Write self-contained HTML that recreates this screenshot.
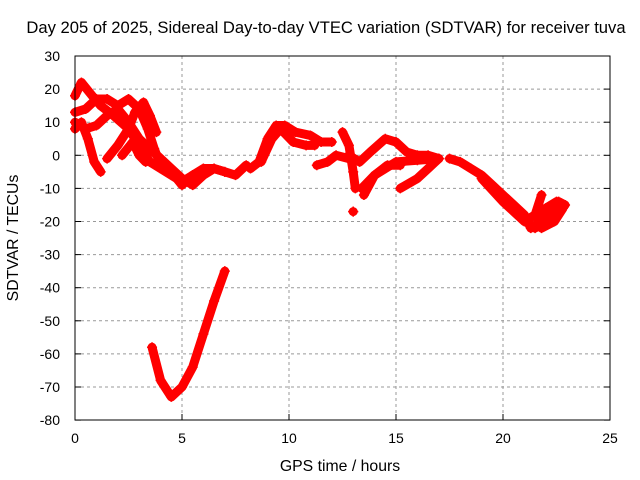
<!DOCTYPE html>
<html><head><meta charset="utf-8"><style>
body{margin:0;background:#fff}
svg{display:block;font-family:"Liberation Sans",sans-serif;font-size:14px}
</style></head><body>
<svg id="c" width="640" height="480">
<text x="326" y="33" text-anchor="middle" style="font-size:16.6px">Day 205 of 2025, Sidereal Day-to-day VTEC variation (SDTVAR) for receiver tuva</text>
<text x="340" y="471" text-anchor="middle" style="font-size:15.8px">GPS time / hours</text>
<text transform="translate(18,238) rotate(-90)" text-anchor="middle" style="font-size:15.8px">SDTVAR / TECUs</text>
<g id="grid"></g><g id="axes"></g><g id="marks"></g>
<rect x="75" y="56" width="535" height="364" fill="none" stroke="#000" stroke-width="1"/>
</svg>
<script>
const xTicks=[0,5,10,15,20,25];
const yTicks=[30,20,10,0,-10,-20,-30,-40,-50,-60,-70,-80];
const tracks=[
[[3.6,-58],[4.0,-68],[4.5,-73],[5.0,-70],[5.5,-64],[6.0,-54],[6.5,-44],[7.0,-35]],
[[0,18],[0.3,22],[0.8,18],[1.2,15],[1.8,12],[2.5,8],[3.0,3],[3.5,-2],[4.0,-4],[4.5,-6],[5.0,-8],[5.5,-6],[6.0,-4],[6.5,-4],[7.0,-5]],
[[0,8],[0.3,10],[0.6,5],[0.9,-2],[1.2,-5]],
[[0,13],[0.5,14],[1.0,17],[1.5,17],[2.0,15],[2.5,17],[3.0,14],[3.4,8],[3.7,2],[4.0,-3],[4.5,-5],[5.0,-9],[5.5,-6]],
[[0,10],[0.5,8],[1,9],[1.5,12],[2,14],[2.5,10],[3.0,5],[3.5,2],[4,-1],[4.5,-4],[5,-7],[5.5,-9],[6,-6],[6.5,-4],[7,-5],[7.5,-6],[8,-3]],
[[1.5,-1],[2,3],[2.5,8],[2.8,13],[3.2,16],[3.5,12],[3.8,7]],
[[2.2,0],[2.7,4],[3.0,0],[3.3,-2]],
[[8.2,-4],[8.6,-2],[9,5],[9.4,9],[9.8,9],[10.3,7],[11,6],[11.5,4],[12,4]],
[[8.7,-2],[9.2,5],[9.6,8],[10.2,4],[10.8,3],[11.2,3]],
[[11.3,-3],[11.8,-2],[12.2,0],[12.8,-1]],
[[12.5,7],[12.8,3],[13,-5],[13.1,-10]],
[[13.0,-17],[13.0,-17]],
[[12.8,0],[13.3,-2],[13.8,1],[14.5,5],[15,4],[15.5,1],[16,0],[16.5,0],[17,-1]],
[[13.4,-10],[14,-6],[14.5,-4],[15,-2],[16,-1.5],[17,-1]],
[[13.5,-12],[14,-6],[14.6,-3],[15.2,-3]],
[[15.2,-10],[16,-7],[16.5,-4],[17,-1]],
[[17.5,-1],[18,-2],[18.5,-4],[19,-6],[19.5,-9],[20,-12],[20.5,-15],[21,-18],[21.3,-22],[21.8,-20],[22.2,-18],[22.6,-14],[22.9,-15]],
[[19,-7],[20,-14],[20.5,-17],[21,-20],[21.5,-18],[21.8,-12]],
[[21.5,-22],[22,-16],[22.5,-14],[22.8,-16],[22.4,-20],[21.8,-22]]
];
const NS="http://www.w3.org/2000/svg";
const X=t=>75+t*21.4, Y=v=>155.3-v*3.31;
function mk(tag,attrs,parent){const e=document.createElementNS(NS,tag);for(const k in attrs)e.setAttribute(k,attrs[k]);document.getElementById(parent).appendChild(e);return e;}
xTicks.forEach(t=>{
 if(t>0&&t<25){const g=mk('line',{x1:X(t),x2:X(t),y1:56,y2:420,stroke:'#999','stroke-dasharray':'3,3'},'grid');
 
 }
 const l=mk('text',{x:X(t),y:443,'text-anchor':'middle'},'axes');l.textContent=t;
 
 
 mk('line',{x1:X(t),x2:X(t),y1:420,y2:414,stroke:'#000'},'axes');
});
yTicks.forEach(v=>{
 if(v<30&&v>-80){const g=mk('line',{x1:75,x2:610,y1:Y(v),y2:Y(v),stroke:'#999','stroke-dasharray':'3,3'},'grid');
 
 }
 const l=mk('text',{x:60,y:Y(v)+5,'text-anchor':'end'},'axes');l.textContent=v;
 
 
 mk('line',{x1:75,x2:81,y1:Y(v),y2:Y(v),stroke:'#000'},'axes');
 mk('line',{x1:610,x2:604,y1:Y(v),y2:Y(v),stroke:'#000'},'axes');
});
tracks.forEach((tr,i)=>{
 const p=mk('polyline',{points:tr.map(d=>X(d[0])+','+Y(d[1])).join(' '),fill:'none',stroke:'#f00','stroke-width':9,'stroke-linejoin':'round','stroke-linecap':'round'},'marks');
 
 
 tr.forEach(d=>{
  const m=mk('path',{d:`M${X(d[0])-5},${Y(d[1])}h10M${X(d[0])},${Y(d[1])-5}v10`,stroke:'#f00','stroke-width':1.5},'marks');
  
  
 });
});
</script>
</body></html>
